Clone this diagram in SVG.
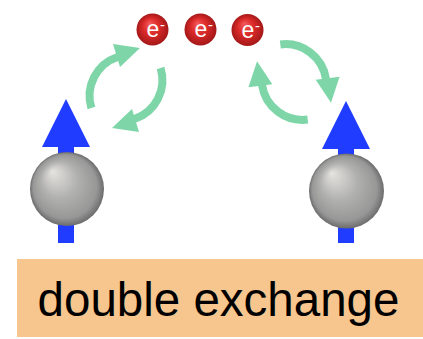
<svg xmlns="http://www.w3.org/2000/svg" xmlns:xlink="http://www.w3.org/1999/xlink" width="423" height="339" viewBox="0 0 423 339">
  <style>
    .spin { fill: #1f3cff; }
    .hop { fill: none; stroke: #7ed6a8; stroke-width: 8; }
    .hophead { fill: #7ed6a8; }
    .eball { fill: url(#redBall); }
    .elabel { fill: #ffffff; font-family: "Liberation Sans", Arial, sans-serif; }
    .caption { fill: #000000; font-family: "Liberation Sans", Arial, sans-serif; font-size: 47.5px; }
  </style>
  <defs>
    <radialGradient id="grayBall" cx="50%" cy="50%" r="50%" fx="30%" fy="26%">
      <stop offset="0" stop-color="#e6e4e0"/>
      <stop offset="0.5" stop-color="#b0b0ae"/>
      <stop offset="0.86" stop-color="#979797"/>
      <stop offset="1" stop-color="#6c6c6c"/>
    </radialGradient>
    <radialGradient id="redBall" cx="50%" cy="50%" r="50%" fx="40%" fy="30%">
      <stop offset="0" stop-color="#f25a5a"/>
      <stop offset="0.5" stop-color="#dc2a2a"/>
      <stop offset="1" stop-color="#a51818"/>
    </radialGradient>
    <!-- pair of curved hopping arrows -->
    <g id="hopPair">
      <path class="hop" d="M91.4,108 A41,41 0 0 1 117.6,57"/>
      <polygon class="hophead" points="113,44 140,48 120,67"/>
      <path class="hop" d="M160.6,68 A41,41 0 0 1 134.4,119"/>
      <polygon class="hophead" points="139,132 112,128 132,109"/>
    </g>
  </defs>

  <rect x="0" y="0" width="423" height="339" fill="#ffffff"/>

  <g id="connectors">
    <use xlink:href="#hopPair"/>
    <use xlink:href="#hopPair" transform="translate(294,82) rotate(100) translate(-126,-88)"/>
  </g>

  <g id="ion-left">
    <rect class="spin" x="58" y="140" width="16" height="103"/>
    <polygon class="spin" points="42,147 66,99 90,147"/>
    <circle cx="67" cy="189" r="37" fill="url(#grayBall)"/>
  </g>

  <g id="ion-right">
    <rect class="spin" x="338" y="140" width="16" height="103"/>
    <polygon class="spin" points="322,149 346,101 370,149"/>
    <circle cx="346.5" cy="191" r="37.5" fill="url(#grayBall)"/>
  </g>

  <g id="electron-1">
    <circle class="eball" cx="152.5" cy="29.5" r="16"/>
    <text class="elabel" x="153" y="37" font-size="23" text-anchor="middle">e</text>
    <text class="elabel" x="160" y="30" font-size="15">-</text>
  </g>
  <g id="electron-2">
    <circle class="eball" cx="200.5" cy="29.5" r="16"/>
    <text class="elabel" x="201" y="37" font-size="23" text-anchor="middle">e</text>
    <text class="elabel" x="208" y="30" font-size="15">-</text>
  </g>
  <g id="electron-3">
    <circle class="eball" cx="247.5" cy="30" r="16"/>
    <text class="elabel" x="248" y="37.5" font-size="23" text-anchor="middle">e</text>
    <text class="elabel" x="255" y="30.5" font-size="15">-</text>
  </g>

  <g id="label">
    <rect x="17" y="259" width="406" height="78" fill="#f6c68e"/>
    <text class="caption" x="218.5" y="316" text-anchor="middle">double exchange</text>
  </g>
</svg>
